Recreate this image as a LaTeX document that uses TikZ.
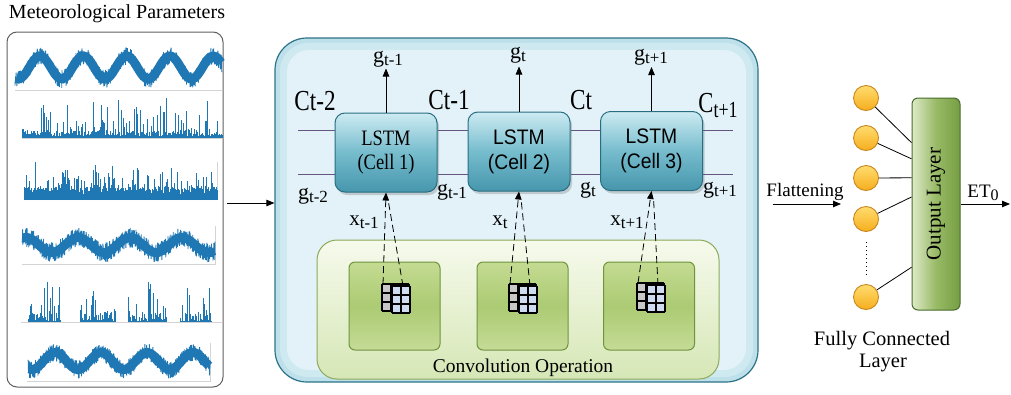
\documentclass[tikz,border=0pt]{standalone}
\usepackage{fontspec}
\usepackage{graphicx}
\setmainfont{Liberation Serif}
\newfontfamily\arialf{Liberation Sans}
\usetikzlibrary{arrows.meta,shadows,calc}

\definecolor{sigblue}{RGB}{31,119,180}
\definecolor{panelgray}{RGB}{95,95,95}
\definecolor{axisgray}{RGB}{212,212,212}
\definecolor{boxouter}{RGB}{190,224,234}
\definecolor{boxmid}{RGB}{207,233,241}
\definecolor{boxinner}{RGB}{226,242,248}
\definecolor{boxedge}{RGB}{45,115,135}
\definecolor{celltop}{RGB}{205,235,242}
\definecolor{cellmid}{RGB}{118,188,205}
\definecolor{cellbot}{RGB}{70,150,172}
\definecolor{celledge}{RGB}{40,110,130}
\definecolor{stateline}{RGB}{100,85,130}
\definecolor{convtop}{RGB}{246,250,236}
\definecolor{convbot}{RGB}{214,231,182}
\definecolor{convedge}{RGB}{140,170,90}
\definecolor{sqtop}{RGB}{196,219,146}
\definecolor{sqmid}{RGB}{172,203,115}
\definecolor{sqbot}{RGB}{196,219,150}
\definecolor{sqedge}{RGB}{112,148,62}
\definecolor{kgray}{RGB}{200,200,200}
\definecolor{kblue}{RGB}{206,219,240}
\definecolor{nodetop}{RGB}{255,220,110}
\definecolor{nodebot}{RGB}{246,174,30}
\definecolor{nodeedge}{RGB}{200,135,30}
\definecolor{barleft}{RGB}{222,234,200}
\definecolor{barmid}{RGB}{152,186,102}
\definecolor{barright}{RGB}{118,158,68}
\definecolor{baredge}{RGB}{72,108,42}

% label helpers
\newcommand{\glab}[1]{{\fontsize{22}{22}\selectfont g}\raisebox{-3pt}{\fontsize{17}{17}\selectfont #1}}
\newcommand{\xlab}[1]{{\fontsize{21}{21}\selectfont x}\raisebox{-3pt}{\fontsize{17}{17}\selectfont #1}}
\newcommand{\clab}[1]{\scalebox{0.8}[1]{\fontsize{29}{29}\selectfont C#1}}
\newcommand{\csublab}[1]{\scalebox{0.78}[1]{\fontsize{29}{29}\selectfont C\raisebox{-5pt}{\fontsize{23}{23}\selectfont #1}}}
\newcommand{\serifcell}[1]{\scalebox{0.84}[1]{LSTM}\\\scalebox{0.84}[1]{(Cell #1)}}
\newcommand{\sanscell}[1]{\scalebox{0.92}[1]{LSTM}\\\scalebox{0.92}[1]{(Cell #1)}}

% 3x3 kernel with a shifted 2x3 kernel on top
\newcommand{\kernelgrid}[2]{%
  \fill[kgray] (#1,#2) rectangle ++(27,27);
  \foreach \i in {0,9,18,27} {
    \draw[kline] (#1+\i,#2) -- (#1+\i,#2+27);
    \draw[kline] (#1,#2+\i) -- (#1+27,#2+\i);
  }
  \fill[kblue] (#1+10,#2+2) rectangle ++(18,27);
  \foreach \i in {0,9,18} {
    \draw[kline] (#1+10+\i,#2+2) -- (#1+10+\i,#2+29);
  }
  \foreach \i in {0,9,18,27} {
    \draw[kline] (#1+10,#2+2+\i) -- (#1+28,#2+2+\i);
  }
}

\tikzset{
  sig/.style={sigblue, line width=0.8pt, line join=bevel},
  core/.style={sigblue, line width=9pt, line cap=butt},
  spk/.style={sigblue, line width=0.75pt},
  axisline/.style={axisgray, line width=0.7pt},
  arr/.style={-{Triangle[length=8pt,width=6.5pt]}, line width=0.8pt, black},
  panel/.style={draw=panelgray, line width=1pt, rounded corners=10pt, minimum width=216pt, minimum height=355pt, inner sep=0pt},
  bigbox/.style={draw=boxedge, line width=1.2pt, fill=boxouter, rounded corners=32pt, minimum width=483pt, minimum height=344pt, inner sep=0pt},
  lstmcell/.style={rounded corners=10pt, draw=celledge, line width=1pt,
    top color=celltop, bottom color=cellbot, middle color=cellmid,
    minimum width=102pt, minimum height=79pt, inner sep=0pt, align=center,
    drop shadow={shadow xshift=2pt, shadow yshift=-3pt, opacity=0.35}},
  seriffont/.style={font=\fontsize{22}{24}\selectfont},
  sansfont/.style={font=\arialf\fontsize{21}{25}\selectfont},
  state/.style={stateline, line width=0.9pt},
  convbox/.style={draw=convedge, line width=1pt, rounded corners=20pt, top color=convtop, bottom color=convbot, minimum width=402pt, minimum height=139pt, inner sep=0pt},
  convsq/.style={draw=sqedge, line width=1pt, rounded corners=6pt, top color=sqtop, bottom color=sqbot, middle color=sqmid, minimum width=91pt, minimum height=88pt, inner sep=0pt},
  kline/.style={black, line width=1.1pt},
  feed/.style={dash pattern=on 7pt off 4pt, line width=0.8pt, black},
  feedarr/.style={feed, -{Triangle[length=8pt,width=6.5pt]}},
  fcnode/.style={circle, draw=nodeedge, line width=0.9pt, top color=nodetop, bottom color=nodebot, minimum size=25pt, inner sep=0pt},
  outbar/.style={draw=baredge, line width=1pt, rounded corners=6pt, left color=barleft, right color=barright, middle color=barmid, minimum width=48pt, minimum height=212pt, inner sep=0pt},
  fcline/.style={black, line width=0.8pt},
  txt/.style={anchor=base, inner sep=0pt},
}

\begin{document}
\begin{tikzpicture}[x=1pt, y=-1pt]
\useasboundingbox (0,0) rectangle (1011,394);

% ---------- input series ----------
\node[txt] (title) at (117,18.5) {\fontsize{20}{20}\selectfont Meteorological Parameters};
\node[panel] (met) at (115,209.5) {};

% axis lines under the series
\draw[axisline] (15,90) -- (222,90);
\draw[axisline] (22,138) -- (222,138);
\draw[axisline] (22,264) -- (215,264) -- (215,226);
\draw[axisline] (21,322) -- (222,322);
\draw[axisline] (27,381) -- (210,381) -- (210,343);
\draw[axisline] (217,200) -- (217,162);

\pgfmathsetseed{11}
% row 1: seasonal band
\draw[core] plot[smooth, domain=16:221, samples=80, variable=\t]
  (\t, {67.5 - 11.5*sin((\t-29.2)/43.3*360)});
\draw[sig] plot[domain=15:222, samples=900, variable=\t]
  (\t, {67.5 - 11.5*sin((\t-29.2)/43.3*360) + 9*(2*rnd-1)});
% row 2: spiky series
\begin{scope}[shift={(0,138)}]
  \draw[spk] plot[ycomb, domain=22:222, samples=330, variable=\t]
    (\t, {-(2+5*pow(rnd,2)+36*pow(rnd,7))});
\end{scope}
% row 3: dense spiky series
\begin{scope}[shift={(0,200)}]
  \draw[spk] plot[ycomb, domain=24:217, samples=420, variable=\t]
    (\t, {-(5+8*rnd+30*pow(rnd,8))});
\end{scope}
% row 4: noisy seasonal band
\draw[core] plot[smooth, domain=23:214, samples=80, variable=\t]
  (\t, {245 - 7.5*sin((\t-65)/52*360)});
\draw[sig] plot[domain=22:215, samples=880, variable=\t]
  (\t, {245 - 7.5*sin((\t-65)/52*360) + 10*(2*rnd-1)});
% row 5: sparse bursts
\begin{scope}[shift={(0,322)}]
  \foreach \a/\b/\n in {28/60/50, 80/115/52, 128/166/56, 180/211/46} {
    \draw[spk] plot[ycomb, domain=\a:\b, samples=\n, variable=\t]
      (\t, {-(1+10*pow(rnd,3)+38*pow(rnd,10))});
  }
\end{scope}
% row 6: seasonal band
\draw[core] plot[smooth, domain=29:209, samples=80, variable=\t]
  (\t, {361 - 8.5*sin((\t-43.5)/46*360)});
\draw[sig] plot[domain=28:210, samples=820, variable=\t]
  (\t, {361 - 8.5*sin((\t-43.5)/46*360) + 9*(2*rnd-1)});

% ---------- CNN-LSTM block ----------
\node[bigbox] (lstmbox) at (516.5,210) {};
\fill[boxmid, rounded corners=28pt] (280,43) rectangle (753,377);
\fill[boxinner, rounded corners=22pt] (287,50) rectangle (746,370);

\coordinate (ay) at (0,203);
\draw[arr, shorten <=3pt] (met.east |- ay) -- (lstmbox.west |- ay);

% convolution stage
\node[convbox] (conv) at (518,309.5) {};
\node[convsq] (s1) at (394.5,306) {};
\node[convsq] (s2) at (522.5,306) {};
\node[convsq] (s3) at (649,306) {};
\node[txt] (convlab) at (523,372) {\fontsize{19.5}{19.5}\selectfont Convolution Operation};

\kernelgrid{382}{284}
\kernelgrid{509}{284}
\kernelgrid{637}{283}

% LSTM cells
\node[lstmcell, seriffont] (c1) at (386,152.5) {\serifcell{1}};
\node[lstmcell, sansfont] (c2) at (519,151.5) {\sanscell{2}};
\node[lstmcell, sansfont] (c3) at (651.5,151) {\sanscell{3}};

% cell state and hidden state lines
\coordinate (su) at (298,130);
\coordinate (sl) at (298,174);
\coordinate (eu) at (733,130);
\coordinate (el) at (733,174);
\draw[state] (su) -- (su -| c1.west);
\draw[state] (c1.east |- su) -- (c2.west |- su);
\draw[state] (c2.east |- su) -- (c3.west |- su);
\draw[state] (c3.east |- eu) -- (eu);
\draw[state] (sl) -- (sl -| c1.west);
\draw[state] (c1.east |- sl) -- (c2.west |- sl);
\draw[state] (c2.east |- sl) -- (c3.west |- sl);
\draw[state] (c3.east |- el) -- (el);

% outputs
\node[txt] (gout1) at (388,62) {\glab{t-1}};
\node[txt] (gout2) at (518,58) {\glab{t}};
\node[txt] (gout3) at (651,60) {\glab{t+1}};
\draw[arr] (c1.north) -- ++(0,-44);
\draw[arr] (c2.north) -- ++(0,-45);
\draw[arr] (c3.north) -- ++(0,-44);

% state labels
\node[txt] (cs0) at (315,110) {\clab{t-2}};
\node[txt] (cs1) at (449,109) {\clab{t-1}};
\node[txt] (cs2) at (581,109) {\clab{t}};
\node[txt] (cs3) at (718,112) {\csublab{t+1}};
\node[txt] (gs0) at (313,199) {\glab{t-2}};
\node[txt] (gs1) at (452,195) {\glab{t-1}};
\node[txt] (gs2) at (588,193) {\glab{t}};
\node[txt] (gs3) at (720,193) {\glab{t+1}};

% inputs from the convolution stage
\node[txt] (xin1) at (364,225) {\xlab{t-1}};
\node[txt] (xin2) at (500,225) {\xlab{t}};
\node[txt] (xin3) at (627,225) {\xlab{t+1}};
\coordinate (k1a) at (383,284);
\coordinate (k1b) at (403,286);
\coordinate (k2a) at (510,284);
\coordinate (k2b) at (530,286);
\coordinate (k3a) at (638,283);
\coordinate (k3b) at (658,285);
\draw[feedarr] (k1a) -- (c1.south);
\draw[feed] (k1b) -- ($(c1.south)+(2,7)$);
\draw[feedarr] (k2a) -- (c2.south);
\draw[feed] (k2b) -- ($(c2.south)+(2,7)$);
\draw[feedarr] (k3a) -- (c3.south);
\draw[feed] (k3b) -- ($(c3.south)+(2,7)$);

% ---------- dense head ----------
\node[txt] (flat) at (805,196) {\fontsize{19}{19}\selectfont Flattening};
\coordinate (fend) at (841,204);
\draw[arr, shorten <=14pt] (lstmbox.east |- fend) -- (fend);

\node[outbar] (out) at (936,204) {\rotatebox{90}{\fontsize{21}{21}\selectfont Output Layer}};
\node[fcnode] (n1) at (866,98) {};
\node[fcnode] (n2) at (866,138) {};
\node[fcnode] (n3) at (866,178) {};
\node[fcnode] (n4) at (866,219) {};
\node[fcnode] (n5) at (866,297) {};
\draw[fcline] (n1) -- ($(out.north west)!0.212!(out.south west)$);
\draw[fcline] (n2) -- ($(out.north west)!0.288!(out.south west)$);
\draw[fcline] (n3) -- ($(out.north west)!0.377!(out.south west)$);
\draw[fcline] (n4) -- ($(out.north west)!0.467!(out.south west)$);
\draw[fcline] (n5) -- ($(out.north west)!0.797!(out.south west)$);
\draw[black, line width=0.8pt, dash pattern=on 1pt off 3pt, shorten <=10pt, shorten >=10pt] (n4) -- (n5);

\node[txt] (fc1) at (882,345) {\fontsize{20.5}{20.5}\selectfont Fully Connected};
\node[txt] (fc2) at (883,367) {\fontsize{20.5}{20.5}\selectfont Layer};

\node[txt] (et) at (983,197) {\fontsize{19}{19}\selectfont ET\raisebox{-3pt}{\fontsize{16}{16}\selectfont 0}};
\coordinate (etend) at (1010,204);
\draw[arr] (out.east) -- (etend);
\end{tikzpicture}
\end{document}
